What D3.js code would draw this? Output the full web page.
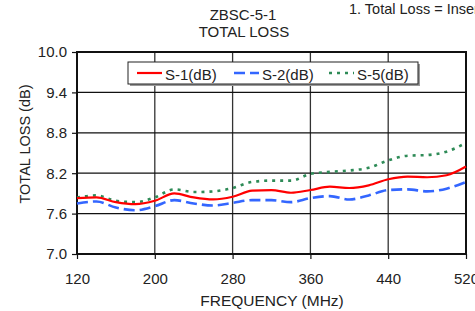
<!DOCTYPE html>
<html>
<head>
<meta charset="utf-8">
<script src="https://cdn.jsdelivr.net/npm/d3@7"></script>
<style>
  body { margin: 0; background: #fff; }
  svg { font-family: "Liberation Sans", Arial, sans-serif; }
</style>
</head>
<body>
<svg id="chart" width="475" height="311"></svg>
<script>
// chart data
const freqs = [120, 140, 160, 180, 200, 220, 240, 260, 280, 300, 320, 340, 360, 380, 400, 420, 440, 460, 480, 500, 520];
const s1 = [7.83, 7.84, 7.77, 7.74, 7.79, 7.90, 7.84, 7.81, 7.85, 7.94, 7.95, 7.91, 7.95, 8.00, 7.98, 8.02, 8.11, 8.15, 8.14, 8.17, 8.30];
const s2 = [7.75, 7.78, 7.69, 7.65, 7.71, 7.80, 7.75, 7.72, 7.76, 7.80, 7.80, 7.77, 7.83, 7.86, 7.81, 7.87, 7.95, 7.96, 7.93, 7.97, 8.07];
const s5 = [7.84, 7.87, 7.79, 7.77, 7.84, 7.96, 7.92, 7.93, 7.98, 8.07, 8.09, 8.09, 8.19, 8.22, 8.24, 8.28, 8.39, 8.46, 8.47, 8.52, 8.65];
const xTicks = [120, 200, 280, 360, 440, 520];
const yTicks = [7.0, 7.6, 8.2, 8.8, 9.4, 10.0];
const seriesNames = ["S-1(dB)", "S-2(dB)", "S-5(dB)"];

const svg = d3.select("#chart");
const plotL = 77, plotR = 466, plotT = 52, plotB = 254;
const fs = 15;

const xScale = d3.scaleLinear().domain([120, 520]).range([plotL, plotR]);
const yScale = d3.scaleLinear().domain([7, 10]).range([plotB, plotT]);

// titles
svg.append("text").attr("x", 243).attr("y", 20).attr("text-anchor", "middle")
  .attr("font-size", fs).attr("fill", "#222").text("ZBSC-5-1");
svg.append("text").attr("x", 244).attr("y", 37).attr("text-anchor", "middle")
  .attr("font-size", fs).attr("fill", "#222").text("TOTAL LOSS");
svg.append("text").attr("x", 349).attr("y", 14)
  .attr("font-size", 14.5).attr("fill", "#222").text("1. Total Loss = Insertion Loss");

// grid
svg.append("g").selectAll("line").data(xTicks.slice(1, -1)).join("line")
  .attr("x1", d => xScale(d)).attr("x2", d => xScale(d))
  .attr("y1", plotT).attr("y2", plotB)
  .attr("stroke", "#333").attr("stroke-width", 1.3);
svg.append("g").selectAll("line").data(yTicks.slice(1, -1)).join("line")
  .attr("x1", plotL).attr("x2", plotR)
  .attr("y1", d => yScale(d)).attr("y2", d => yScale(d))
  .attr("stroke", "#111").attr("stroke-width", 1.3);

// axes
const yAxis = d3.axisLeft(yScale).tickValues(yTicks).tickFormat(d3.format(".1f")).tickSize(5).tickPadding(5);
const xAxis = d3.axisBottom(xScale).tickValues(xTicks).tickFormat(d3.format("d")).tickSize(5).tickPadding(14);

const gy = svg.append("g").attr("transform", `translate(${plotL},0)`).call(yAxis);
gy.selectAll("text").attr("font-size", fs).attr("fill", "#222").attr("font-family", "Liberation Sans, Arial, sans-serif");
gy.select(".domain").remove();
gy.selectAll(".tick line").attr("stroke", "#111").attr("stroke-width", 1.2);

const gx = svg.append("g").attr("transform", `translate(0,${plotB})`).call(xAxis);
gx.selectAll("text").attr("font-size", fs).attr("fill", "#222").attr("font-family", "Liberation Sans, Arial, sans-serif");
gx.select(".domain").remove();
gx.selectAll(".tick line").attr("stroke", "#111").attr("stroke-width", 1.2);

// plot border
svg.append("rect").attr("x", plotL).attr("y", plotT)
  .attr("width", plotR - plotL).attr("height", plotB - plotT)
  .attr("fill", "none").attr("stroke", "#111").attr("stroke-width", 2);

// axis titles
svg.append("text").attr("x", 272).attr("y", 306).attr("text-anchor", "middle")
  .attr("font-size", 15.5).attr("fill", "#222").text("FREQUENCY (MHz)");
svg.append("text").attr("transform", "translate(30,144) rotate(-90)")
  .attr("text-anchor", "middle").attr("font-size", 14.5).attr("fill", "#222")
  .text("TOTAL LOSS (dB)");

// lines
const styles = [
  { color: "#ff0000", width: 2.2, dash: null },
  { color: "#3366ff", width: 2.6, dash: "11,5" },
  { color: "#2e8b57", width: 2.6, dash: "3,5" }
];
const allSeries = [s1, s2, s5];
const line = d3.line().x((d, i) => xScale(freqs[i])).y(d => yScale(d)).curve(d3.curveMonotoneX);

// draw green first, red on top
[2, 1, 0].forEach(k => {
  svg.append("path").datum(allSeries[k])
    .attr("d", line)
    .attr("fill", "none")
    .attr("stroke", styles[k].color)
    .attr("stroke-width", styles[k].width)
    .attr("stroke-dasharray", styles[k].dash);
});

// legend
const lg = svg.append("g");
lg.append("rect").attr("x", 130).attr("y", 64).attr("width", 290).attr("height", 22)
  .attr("fill", "#999");
lg.append("rect").attr("x", 128).attr("y", 62).attr("width", 290).attr("height", 22)
  .attr("fill", "#fff").attr("stroke", "#222").attr("stroke-width", 1);
const legX = [137, 234, 329];
seriesNames.forEach((name, k) => {
  lg.append("line").attr("x1", legX[k]).attr("x2", legX[k] + 25)
    .attr("y1", 73).attr("y2", 73)
    .attr("stroke", styles[k].color).attr("stroke-width", styles[k].width)
    .attr("stroke-dasharray", styles[k].dash);
  lg.append("text").attr("x", legX[k] + 28).attr("y", 79.5)
    .attr("font-size", fs).attr("fill", "#222").text(name);
});
</script>
</body>
</html>
